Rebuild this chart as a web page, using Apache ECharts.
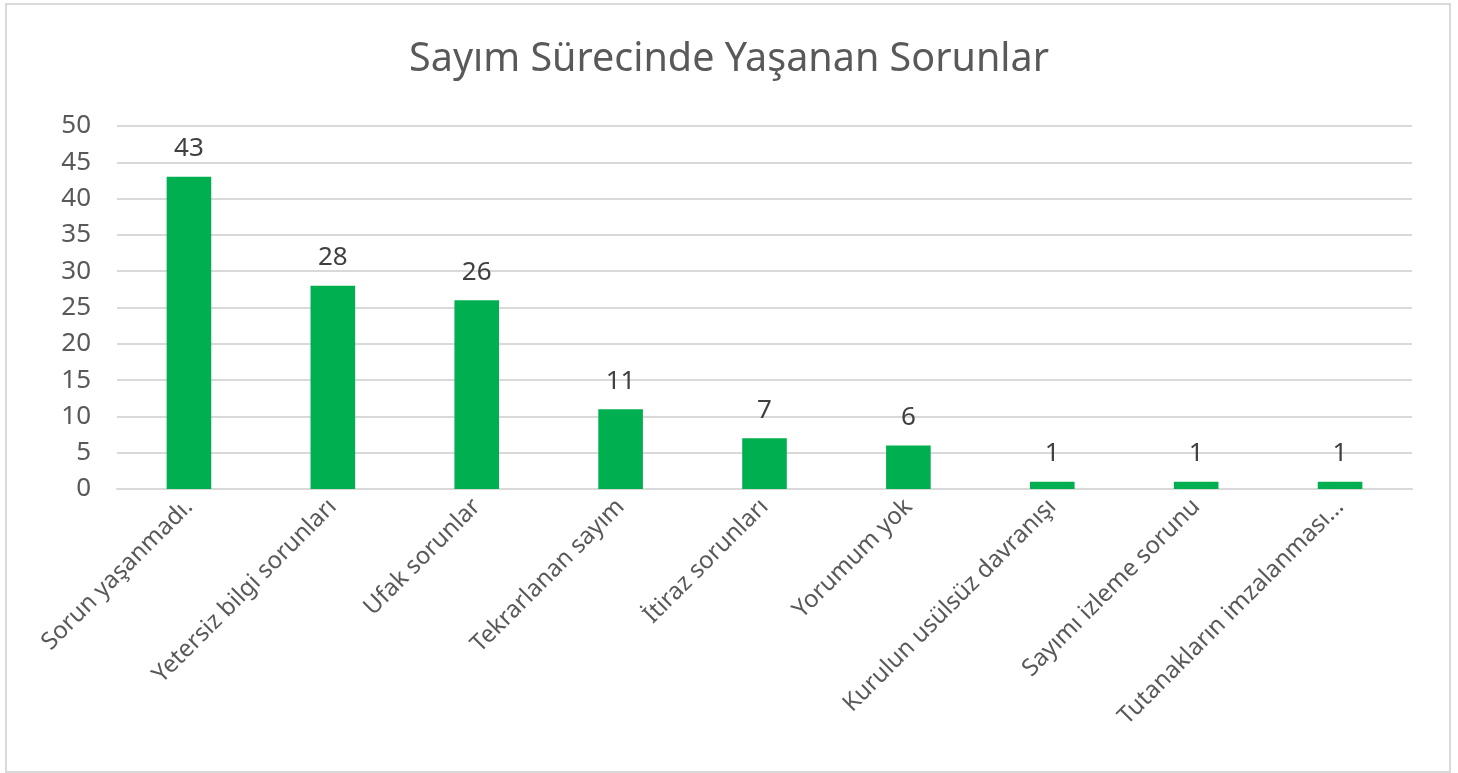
<!DOCTYPE html>
<html>
<head>
<meta charset="utf-8">
<script src="https://cdn.jsdelivr.net/npm/echarts@6/dist/echarts.min.js"></script>
<style>
  html, body { margin: 0; padding: 0; background: #fff; }
  #frame { position: absolute; left: 5px; top: 3px; width: 1442px; height: 766px; border: 2px solid #d9d9d9; }
  #chart { position: absolute; left: 0; top: 0; width: 1458px; height: 773px; }
</style>
</head>
<body>
<div id="frame"></div>
<div id="chart"></div>
<script>
// kategoriler ve değerler
const categories = [
  'Sorun yaşanmadı.',
  'Yetersiz bilgi sorunları',
  'Ufak sorunlar',
  'Tekrarlanan sayım',
  'İtiraz sorunları',
  'Yorumum yok',
  'Kurulun usülsüz davranışı',
  'Sayımı izleme sorunu',
  'Tutanakların imzalanması...'
];
const counts = [43, 28, 26, 11, 7, 6, 1, 1, 1];
const yTicks = [0, 5, 10, 15, 20, 25, 30, 35, 40, 45, 50];

const chart = echarts.init(document.getElementById('chart'), null, { renderer: 'canvas' });
const font = '"Noto Sans", sans-serif';

chart.setOption({
  backgroundColor: 'transparent',
  animation: false,
  title: {
    text: 'Sayım Sürecinde Yaşanan Sorunlar',
    left: 'center',
    top: 35,
    textStyle: { color: '#595959', fontSize: 39.5, fontWeight: 'normal', fontFamily: font }
  },
  grid: { left: 117, right: 46, top: 126, bottom: 284, containLabel: false },
  xAxis: {
    type: 'category',
    data: categories,
    axisLine: { show: true, lineStyle: { color: '#d9d9d9', width: 2 } },
    axisTick: { show: false },
    axisLabel: {
      interval: 0,
      rotate: 45,
      margin: 14,
      color: '#595959',
      fontSize: 24,
      fontFamily: font
    }
  },
  yAxis: {
    type: 'value',
    min: yTicks[0],
    max: yTicks[yTicks.length - 1],
    interval: 5,
    axisLine: { show: false },
    axisTick: { show: false },
    axisLabel: { color: '#595959', fontSize: 26, fontFamily: font, margin: 26 },
    splitLine: { lineStyle: { color: '#d9d9d9', width: 2 } }
  },
  series: [{
    type: 'bar',
    data: counts,
    barWidth: '31%',
    itemStyle: { color: '#00b050' },
    label: {
      show: true,
      position: 'top',
      distance: 15,
      color: '#404040',
      fontSize: 26,
      fontFamily: font
    }
  }]
});
</script>
</body>
</html>
